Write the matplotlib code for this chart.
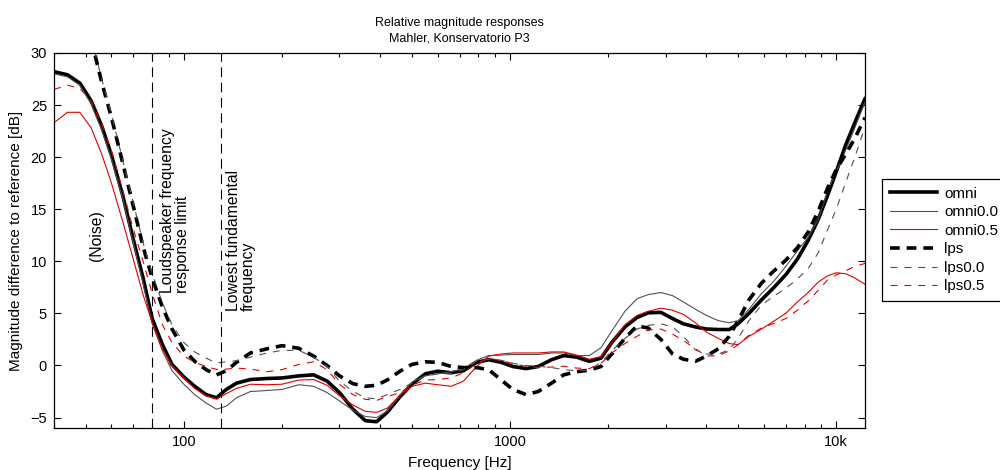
import matplotlib
matplotlib.use("Agg")
import matplotlib.pyplot as plt
import numpy as np

plt.rcParams["font.family"] = ["Liberation Sans", "DejaVu Sans"]
plt.rcParams["lines.scale_dashes"] = False

nan = np.nan

# frequency grid (Hz) the curves were read at
freq = [40, 44, 48, 52, 56, 60, 65, 70, 75, 80, 86, 92, 100, 108, 117, 126, 135, 145,
        160, 180, 200, 225, 250, 275, 300, 330, 360, 390, 420, 460, 500, 550, 600,
        660, 720, 790, 860, 940, 1020, 1120, 1220, 1340, 1460, 1600, 1750, 1900,
        2050, 2250, 2450, 2650, 2900, 3150, 3400, 3700, 4000, 4350, 4700, 5000,
        5400, 5900, 6400, 7000, 7600, 8200, 8800, 9400, 10000, 10700, 11400, 12250]

omni = [28.2, 27.9, 27.1, 25.4, 23.0, 20.2, 16.3, 12.1, 8.4, 4.5, 2.0, 0.1, -1.1, -2.0,
        -2.8, -3.1, -2.3, -1.7, -1.35, -1.25, -1.2, -1.0, -0.9, -1.5, -2.6, -4.2, -5.3,
        -5.4, -4.5, -3.0, -1.8, -0.8, -0.55, -0.7, -0.5, 0.3, 0.55, 0.3, -0.1, -0.3,
        -0.1, 0.55, 0.95, 0.8, 0.4, 0.7, 2.2, 3.7, 4.6, 5.05, 5.1, 4.5, 4.0, 3.7, 3.5,
        3.45, 3.45, 4.0, 5.0, 6.3, 7.4, 8.7, 10.2, 12.0, 14.0, 16.3, 18.6, 21.2, 23.3, 25.6]

omni00 = [28.0, 27.7, 26.9, 25.1, 22.6, 19.8, 16.0, 11.8, 7.9, 4.0, 1.4, -0.5, -1.8,
          -2.8, -3.6, -4.2, -3.9, -3.1, -2.5, -2.4, -2.3, -1.85, -2.0, -2.6, -3.4, -4.3,
          -4.9, -5.0, -4.4, -2.9, -1.6, -1.0, -0.8, -0.6, -0.3, 0.5, 0.95, 1.0, 1.05,
          1.05, 1.05, 1.2, 1.2, 0.95, 0.95, 1.7, 3.3, 5.2, 6.4, 6.8, 7.0, 6.7, 6.1, 5.4,
          4.8, 4.3, 4.1, 4.3, 5.4, 6.9, 8.0, 9.5, 11.0, 12.3, 14.0, 16.7, 18.6, 20.7,
          22.8, 25.3]

omni05 = [23.3, 24.3, 24.3, 22.8, 20.3, 17.5, 13.8, 10.2, 6.8, 4.1, 1.6, 0.0, -1.2,
          -2.2, -2.9, -3.2, -2.7, -2.2, -1.8, -1.85, -1.8, -1.4, -1.35, -1.9, -2.9, -3.8,
          -4.4, -4.5, -4.1, -2.9, -2.0, -1.7, -1.85, -2.0, -1.5, -0.1, 0.9, 1.1, 1.2,
          1.2, 1.2, 1.3, 1.3, 1.0, 0.6, 0.85, 2.2, 3.9, 4.8, 5.2, 5.5, 5.3, 4.9, 4.1,
          3.2, 2.6, 2.1, 2.0, 2.8, 3.5, 4.2, 5.0, 6.1, 7.0, 8.0, 8.6, 8.9, 8.8, 8.4, 7.8]

lps = [nan, nan, nan, 31.3, 27.2, 23.8, 19.4, 15.3, 11.4, 8.4, 5.6, 3.5, 1.5, 0.4,
       -0.4, -0.9, -0.5, 0.3, 1.2, 1.6, 1.9, 1.65, 0.9, 0.0, -1.0, -1.75, -2.0, -1.9,
       -1.4, -0.55, 0.1, 0.35, 0.3, -0.1, -0.2, -0.2, -0.4, -1.4, -2.3, -2.8, -2.5,
       -1.7, -0.9, -0.6, -0.45, -0.1, 1.1, 2.6, 3.8, 3.6, 2.5, 1.1, 0.6, 0.4, 0.9,
       1.6, 2.8, 4.3, 6.3, 7.9, 9.0, 10.1, 11.3, 12.8, 14.8, 17.0, 18.8, 20.3, 21.8, 23.8]

lps00 = [nan, nan, nan, 31.5, 27.5, 24.1, 19.7, 15.6, 11.8, 8.8, 6.0, 3.9, 2.2, 1.3,
         0.7, 0.25, 0.35, 0.45, 0.8, 1.2, 1.45, 1.45, 0.8, -0.1, -1.5, -2.5, -3.1, -3.2,
         -2.8, -2.3, -1.7, -1.0, -0.8, -0.8, -0.4, 0.4, 0.6, 0.5, 0.2, 0.0, -0.07, -0.2,
         -0.4, -0.5, -0.45, 0.3, 1.4, 2.6, 3.5, 3.85, 4.0, 3.7, 2.8, 1.5, 1.1, 1.1, 1.5,
         2.6, 4.3, 5.8, 6.6, 7.4, 8.3, 9.3, 10.8, 13.0, 15.0, 17.6, 20.0, 22.9]

lps05 = [26.5, 26.9, 26.6, 25.4, 23.2, 20.6, 16.8, 13.1, 10.0, 6.9, 3.9, 2.2, 0.9, 0.3,
         -0.1, -0.38, -0.35, -0.25, -0.35, -0.6, -0.4, 0.1, 0.35, -0.4, -1.8, -2.8, -3.25,
         -3.35, -3.0, -2.6, -1.9, -1.4, -1.35, -1.2, -0.7, 0.2, 0.7, 0.45, 0.2, -0.1,
         -0.2, -0.15, -0.07, -0.25, -0.3, 0.2, 1.2, 2.1, 2.8, 3.4, 3.5, 3.0, 2.4, 1.6,
         0.9, 0.95, 1.4, 2.0, 2.9, 3.6, 4.0, 4.5, 5.3, 6.2, 7.2, 8.2, 8.7, 9.1, 9.5, 9.8]

speaker_limit = 80
lowest_fund = 130

fig = plt.figure(figsize=(10, 4.7), dpi=100)
ax = fig.add_axes([0.054, 0.0894, 0.811, 0.798])

gray = "#505050"
red = "#e00000"
ax.plot(freq, omni, color="black", lw=2.6, label="omni")
ax.plot(freq, omni00, color=gray, lw=0.8, label="omni0.0")
ax.plot(freq, omni05, color=red, lw=0.8, label="omni0.5")
ax.plot(freq, lps, color="black", lw=2.6, ls=(0, (7, 5)), label="lps")
ax.plot(freq, lps00, color=gray, lw=0.8, ls=(0, (5, 5)), label="lps0.0")
ax.plot(freq, lps05, color=red, lw=0.8, ls=(0, (5, 5)), label="lps0.5")

for f in (speaker_limit, lowest_fund):
    ax.axvline(f, color="black", lw=0.8, ls=(0, (7, 4)))

ax.text(54, 12.5, "(Noise)", rotation=90, ha="center", va="center", fontsize=11.3)
ax.text(84.5, 7.0, "Loudspeaker frequency\nresponse limit", rotation=90,
        ha="left", va="bottom", multialignment="left", fontsize=11.3, linespacing=1.0)
ax.text(134.5, 5.2, "Lowest fundamental\nfrequency", rotation=90,
        ha="left", va="bottom", multialignment="left", fontsize=11.3, linespacing=1.0)

ax.set_xscale("log")
ax.set_xlim(40, 12250)
ax.set_ylim(-6, 30)
ax.set_xticks([100, 1000, 10000])
ax.set_xticklabels(["100", "1000", "10k"])
ax.set_yticks([-5, 0, 5, 10, 15, 20, 25, 30])
ax.tick_params(which="both", direction="in", top=True, right=True, labelsize=10.5)
ax.tick_params(axis="x", pad=5)
ax.tick_params(axis="y", pad=5)
ax.tick_params(which="major", length=5, width=0.8)
ax.tick_params(which="minor", length=3, width=0.8)
for sp in ax.spines.values():
    sp.set_linewidth(0.9)

ax.set_xlabel("Frequency [Hz]", fontsize=11, labelpad=5)
ax.set_ylabel("Magnitude difference to reference [dB]", fontsize=11, labelpad=5)
ax.set_title("Relative magnitude responses\nMahler, Konservatorio P3", fontsize=9,
             linespacing=1.35, pad=8.5)

leg = ax.legend(loc="upper left", bbox_to_anchor=(1.021, 0.664), fontsize=11,
                frameon=True, fancybox=False, edgecolor="black", framealpha=1,
                handlelength=3.1, handletextpad=0.45, labelspacing=0.3,
                borderpad=0.5, borderaxespad=0)
leg.get_frame().set_linewidth(0.9)

fig.savefig("out.png", dpi=100)
